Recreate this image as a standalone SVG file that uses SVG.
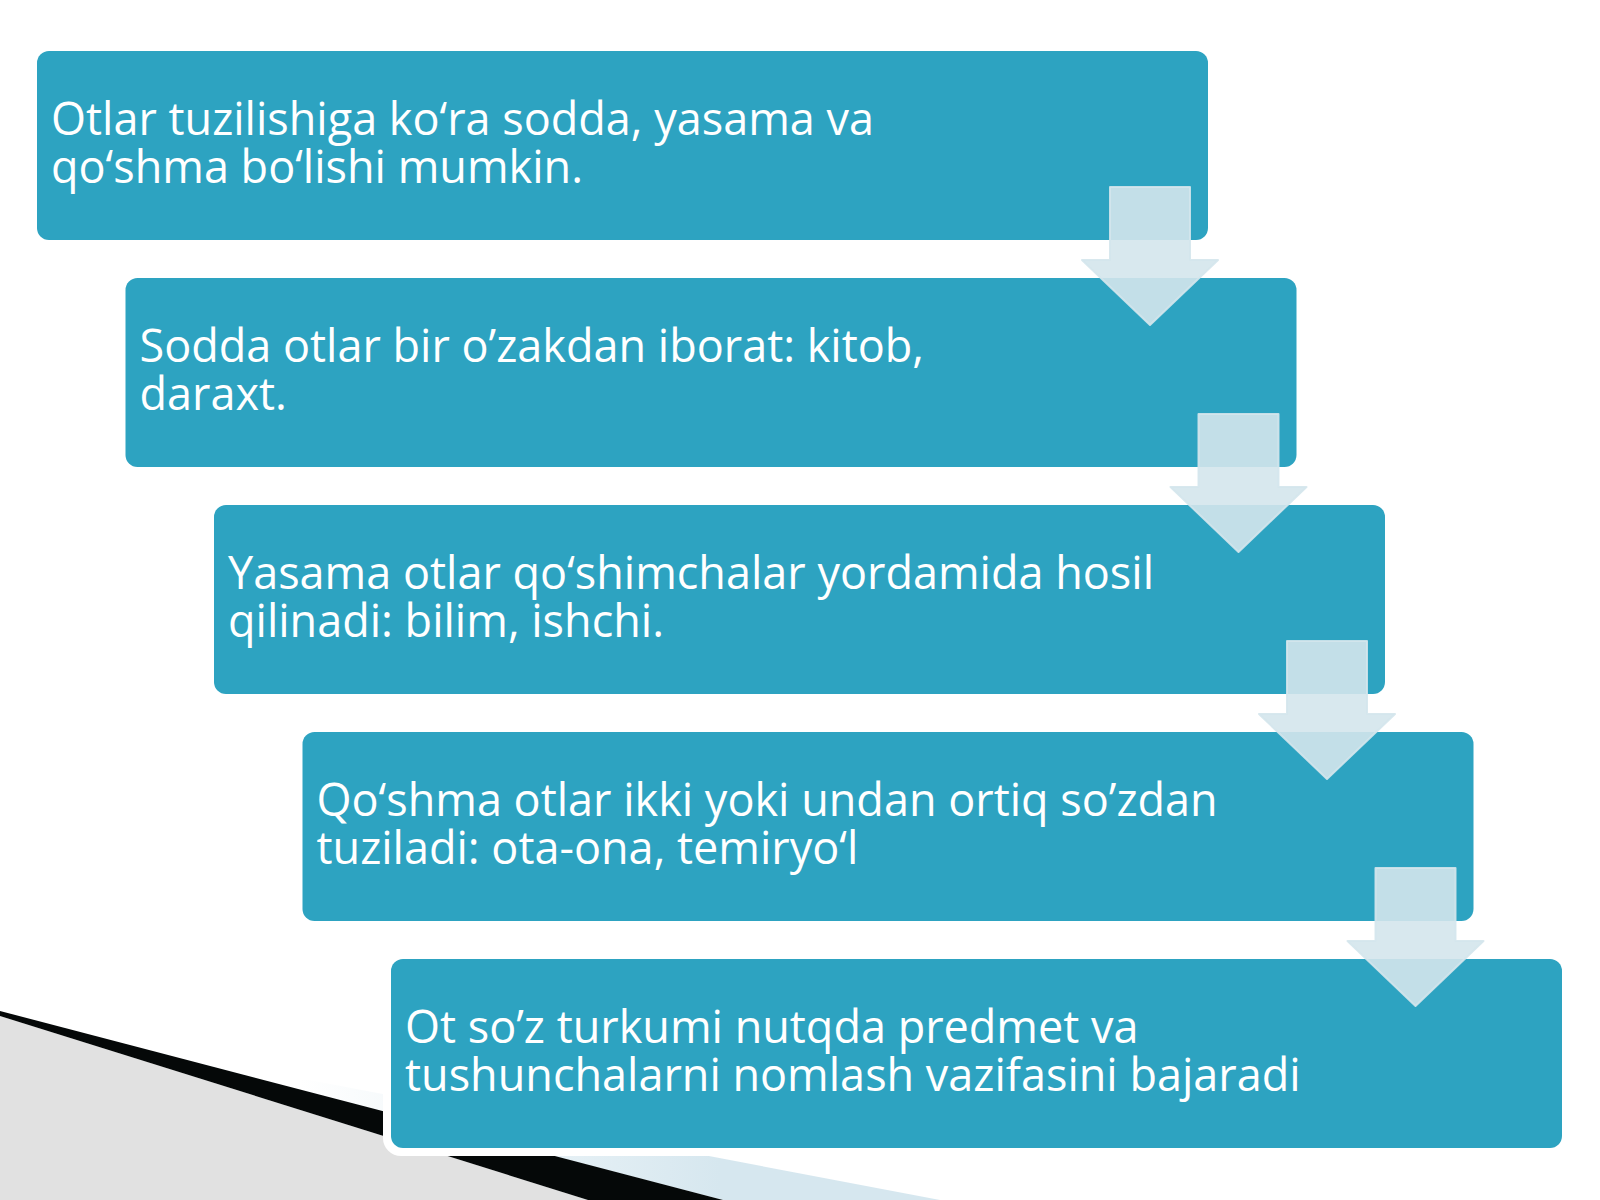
<svg xmlns="http://www.w3.org/2000/svg" width="1600" height="1200" viewBox="0 0 1600 1200">
  <defs>
    <style>
      .box { fill: #2da3c1; }
      .halo { fill: #ffffff; }
      .txt { font-family: "Open Sans", "Noto Sans", "Liberation Sans", sans-serif; font-size: 45px; fill: #ffffff; }
      .arrow { fill: #d4e6ec; fill-opacity: 0.9; stroke: #d4e6ec; stroke-opacity: 0.9; stroke-width: 2; stroke-linejoin: round; }
    </style>
    <linearGradient id="lb" gradientUnits="userSpaceOnUse" x1="300" y1="0" x2="720" y2="0">
      <stop offset="0" stop-color="#ffffff"/>
      <stop offset="1" stop-color="#d6e7ef"/>
    </linearGradient>
  </defs>
  <rect x="0" y="0" width="1600" height="1200" fill="#ffffff"/>

  <g id="decoration">
    <polygon points="120,1044 940,1200 723,1200" fill="url(#lb)"/>
    <polygon points="0,1016 588,1200 0,1200" fill="#e1e1e1"/>
    <polygon points="0,1011 723,1200 588,1200 0,1016" fill="#050808"/>
  </g>

  <g id="node1">
    <rect class="box" x="37" y="51" width="1171" height="189" rx="12"/>
    <text class="txt" x="51" y="135">Otlar tuzilishiga ko‘ra sodda, yasama va</text>
    <text class="txt" x="51" y="183">qo‘shma bo‘lishi mumkin.</text>
  </g>
  <g id="node2">
    <rect class="box" x="125.5" y="278" width="1171" height="189" rx="12"/>
    <text class="txt" x="139.5" y="362">Sodda otlar bir o’zakdan iborat: kitob,</text>
    <text class="txt" x="139.5" y="410">daraxt.</text>
  </g>
  <g id="node3">
    <rect class="box" x="214" y="505" width="1171" height="189" rx="12"/>
    <text class="txt" x="228" y="589">Yasama otlar qo‘shimchalar yordamida hosil</text>
    <text class="txt" x="228" y="637">qilinadi: bilim, ishchi.</text>
  </g>
  <g id="node4">
    <rect class="box" x="302.5" y="732" width="1171" height="189" rx="12"/>
    <text class="txt" x="316.5" y="816">Qo‘shma otlar ikki yoki undan ortiq so’zdan</text>
    <text class="txt" x="316.5" y="864">tuziladi: ota-ona, temiryo‘l</text>
  </g>
  <g id="node5">
    <rect class="halo" x="383" y="951" width="1187" height="205" rx="18"/>
    <rect class="box" x="391" y="959" width="1171" height="189" rx="12"/>
    <text class="txt" x="405" y="1043">Ot so’z turkumi nutqda predmet va</text>
    <text class="txt" x="405" y="1091">tushunchalarni nomlash vazifasini bajaradi</text>
  </g>

  <g id="connectors">
    <path class="arrow" d="M1110,187 H1190 V260 H1218 L1150,325 L1082,260 H1110 Z"/>
    <path class="arrow" d="M1198.5,414 H1278.5 V487 H1306.5 L1238.5,552 L1170.5,487 H1198.5 Z"/>
    <path class="arrow" d="M1287,641 H1367 V714 H1395 L1327,779 L1259,714 H1287 Z"/>
    <path class="arrow" d="M1375.5,868 H1455.5 V941 H1483.5 L1415.5,1006 L1347.5,941 H1375.5 Z"/>
  </g>
</svg>
